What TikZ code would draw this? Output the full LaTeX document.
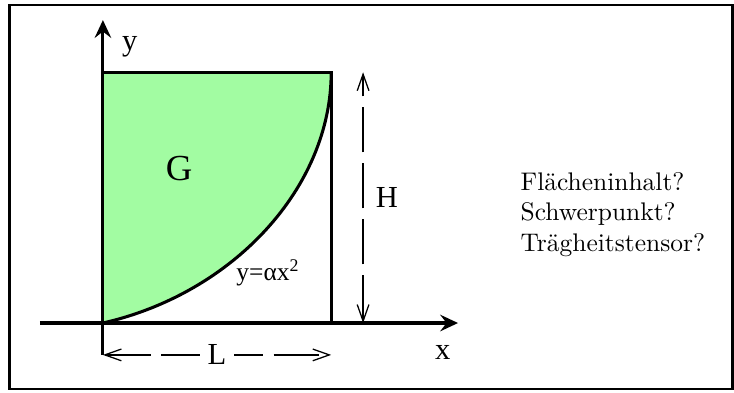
\documentclass[tikz,border=0pt]{standalone}
\usepackage{fontspec}
\usepackage{xcolor}
\usepackage{tikz}
\usetikzlibrary{positioning,arrows.meta,calc}
\newfontfamily\figfont{Liberation Serif}
\definecolor{areaGreen}{HTML}{A2FCA2}
\tikzset{
  thickline/.style={line width=1.2pt,draw=black},
  axisarrow/.style={thickline,-{Stealth[length=7pt,width=6.5pt,inset=2.5pt]}},
  dimline/.style={line width=0.5pt,draw=black,dash pattern=on 18pt off 4pt,
    {Straight Barb[length=6.5pt,width=4.6pt]}-{Straight Barb[length=6.5pt,width=4.6pt]}},
  figlabel/.style={font=\figfont\large,inner sep=1pt}
}

\begin{document}
\begin{tikzpicture}
  \useasboundingbox (-1.42,-0.952) rectangle (8.708,4.457);
  \draw[line width=1pt] (-1.29,-0.911) rectangle (8.687,4.388);

  \coordinate (O) at (0,0);
  \coordinate (LR) at (3.15,0);
  \coordinate (TR) at (3.15,3.46);
  \coordinate (TL) at (0,3.46);

  % Gebiet G
  \fill[areaGreen] (O) .. controls (1.80,0.41) and (3.15,1.87) .. (TR) -- (TL) -- cycle;
  \draw[thickline] (O) .. controls (1.80,0.41) and (3.15,1.87) .. (TR);
  \draw[thickline] (TL) -- (TR) -- (LR);

  % Achsen
  \coordinate (Lleft) at (0,-0.44);
  \coordinate (Lright) at (3.15,-0.44);
  \coordinate (ytip) at (0,4.18);
  \coordinate (xstart) at (-0.87,0);
  \coordinate (xtip) at (4.90,0);
  \draw[axisarrow] (Lleft) -- (ytip);
  \draw[axisarrow] (xstart) -- (xtip);
  \node[figlabel] (ylab) at (0.37,3.81) {y};
  \node[figlabel] (xlab) at (4.69,-0.40) {x};

  % Bemassung
  \coordinate (Hbot) at (3.59,0);
  \coordinate (Htop) at (3.59,3.46);
  \draw[dimline] (Hbot) -- (Htop);
  \draw[dimline] (Lleft) -- (Lright)
    node[midway,figlabel,fill=white,inner xsep=3pt] (Llab) {L};
  \node[figlabel] (Hlab) at (3.92,1.73) {H};

  \node[font=\figfont\Large] (Glab) at (1.05,2.13) {G};
  \node[font=\figfont,inner sep=1pt] (curvelab) at (2.28,0.69) {y=αx\textsuperscript{2}};

  \node[anchor=west,align=left] (questions) at (5.64,1.50)
    {Flächeninhalt?\\Schwerpunkt?\\Trägheitstensor?};
\end{tikzpicture}
\end{document}
